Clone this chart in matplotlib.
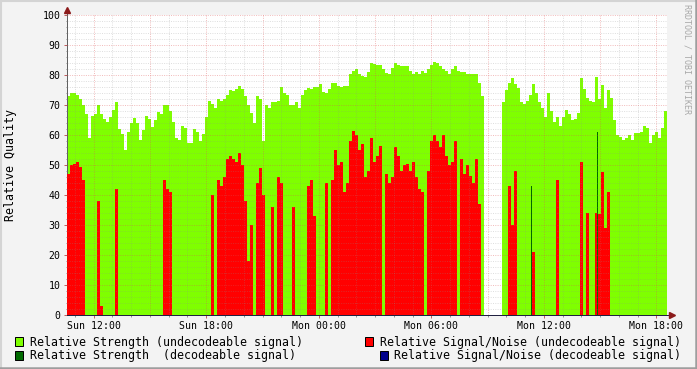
import numpy as np
import matplotlib
matplotlib.use("Agg")
import matplotlib.pyplot as plt
from matplotlib.patches import Rectangle
from matplotlib.lines import Line2D

nan = np.nan
# ---------------- data ----------------
# samples every ~9.6 min starting Sun 10:35 (hours since Sun 00:00)
T0 = 10.577
STEP = 3 / 18.757

strength_undec = [
    73, 74, 74, 73.5, 72, 70, 67, 59, 66.5, 67, 70, 67, 65.5, 64.5, 66, 68.5, 71, 62, 60.2, 55, 61, 64, 65.6, 64, 58.5, 61.7, 66.3, 65.5, 62.8, 65, 67.6, 67, 70,
    70, 68, 64.5, 59, 58.5, 63, 62.5, 57.5, 57.5, 62, 61, 58, 60.5, 66, 71.3, 70.5, 69, 72, 71.3, 72, 73.5, 75, 74.8, 75.5, 76.3, 75.5, 73, 70, 67.5, 64, 73, 72, 58,
    70, 69, 71, 71, 71.5, 76, 74, 73.5, 70, 70, 71, 69, 73.5, 75, 75.8, 75.5, 75.9, 76, 77, 74.4, 73.9, 75.5, 77.5, 77.3, 76.5, 75.9, 76.5, 76.5, 80.5, 81.3, 82, 80.5, 79.8,
    79.5, 81.1, 84, 83.6, 83.3, 83.5, 82, 80.8, 80.3, 82.5, 83.9, 83.5, 83.1, 83.1, 83, 81.5, 80.2, 81, 80.2, 81.5, 80.7, 82, 83.3, 84.3, 83.9, 83, 82, 81.5, 80.4, 82, 83.1, 81.5, 80.9,
    80.9, 80.5, 80.2, 80.5, 80.5, 77.5, 73, nan, nan, nan, nan, nan, nan, 71, 75, 77.5, 79, 77, 75.6, 71, 70.5, 71.5, 73.5, 77, 74, 71, 69, 66, 74, 68, 64.5, 66, 63,
    66, 68.5, 67, 65, 65.3, 67.5, 79, 75.3, 72.5, 71.5, 71, 79.5, 72, 76.7, 69, 75, 72.5, 65, 60, 59.5, 58.5, 58.9, 60, 58.5, 60.6, 60.7, 61, 63, 62.5, 57.5, 60, 61, 59, 62.5, 68,
]

snr_undec = [
    47, 50, 50.5, 51, 49.5, 45, 0, 0, 0, 0, 38, 3, 0, 0, 0, 0, 42, 0, 0, 0, 0, 0, 0, 0, 0, 0, 0, 0, 0, 0, 0, 0, 45,
    42, 41, 0, 0, 0, 0, 0, 0, 0, 0, 0, 0, 0, 0, 0, 40, 0, 45, 43, 46, 52, 53, 52, 51, 54, 50, 38, 18, 30, 0, 44, 49, 40,
    0, 0, 36, 0, 46, 44, 0, 0, 0, 36, 0, 0, 0, 0, 43, 45, 33, 0, 0, 0, 44, 0, 45, 55, 50, 51, 41, 44, 58, 61.5, 60, 55, 57,
    46, 48, 59, 51, 53, 56.5, 0, 47, 44, 46, 56, 53, 48, 50, 50.5, 48, 51, 46, 42, 41, 0, 48, 58, 60, 58, 56, 60, 53, 50, 51, 58, 0, 52,
    47, 50, 46.5, 44, 52, 37, 0, nan, nan, nan, nan, nan, nan, 0, 0, 43, 30, 48, 0, 0, 0, 0, 0, 21, 0, 0, 0, 0, 0, 0, 0, 45, 0,
    0, 0, 0, 0, 0, 0, 51, 0, 34, 0, 0, 34, 33.6, 47.6, 29, 41, 0, 0, 0, 0, 0, 0, 0, 0, 0, 0, 0, 0, 0, 0, 0, 0, 0, 0, 0,
]

# decodeable signal (sparse samples: hour, value)
strength_dec_time = [35.31, 38.83]
strength_dec_val = [43, 61]
snr_dec_time = []
snr_dec_val = []

tick_hours = [12, 18, 24, 30, 36, 42]
tick_labels = ["Sun 12:00", "Sun 18:00", "Mon 00:00", "Mon 06:00", "Mon 12:00", "Mon 18:00"]
legend_labels = [
    "Relative Strength (undecodeable signal)",
    "Relative Signal/Noise (undecodeable signal)",
    "Relative Strength  (decodeable signal)",
    "Relative Signal/Noise (decodeable signal)",
]

# ---------------- style ----------------
W, H = 697, 369
MONO = "DejaVu Sans Mono"
C_GREEN = "#7FFF00"
C_RED = "#FF0000"
C_DGREEN = "#006A00"
C_NAVY = "#00008B"
BG = "#F3F3F3"

fig = plt.figure(figsize=(W / 100, H / 100), dpi=100, facecolor=BG)
ax = fig.add_axes([67 / W, 54 / H, 600 / W, 300 / H])
ax.set_facecolor("white")

g = np.nan_to_num(np.array(strength_undec, dtype=float))
r = np.nan_to_num(np.array(snr_undec, dtype=float))
t = T0 + STEP * np.arange(len(g))

ax.bar(t, g, width=STEP, align="edge", color=C_GREEN, linewidth=0, antialiased=False, zorder=2)
ax.bar(t, r, width=STEP, align="edge", color=C_RED, linewidth=0, antialiased=False, zorder=3)
ax.bar(strength_dec_time, strength_dec_val, width=STEP / 3, align="edge", color=C_DGREEN,
       linewidth=0, antialiased=False, zorder=4)
if snr_dec_time:
    ax.bar(snr_dec_time, snr_dec_val, width=STEP / 3, align="edge", color=C_NAVY,
           linewidth=0, antialiased=False, zorder=4)

x0, x1 = T0, T0 + 600 / 18.757
ax.set_xlim(x0, x1)
ax.set_ylim(0, 100)

# grid (drawn over data, rrdtool style)
MAJ = (0.87, 0.32, 0.32, 0.38)
MIN = (0.56, 0.56, 0.56, 0.28)
for h in range(11, 43):
    ax.axvline(h, color=MAJ if h % 3 == 0 else MIN, lw=0.72, dashes=(1, 1.3), zorder=5)
for v in range(2, 101, 2):
    ax.axhline(v, color=MAJ if v % 10 == 0 else MIN, lw=0.72, dashes=(1, 1.3), zorder=5)

ax.set_xticks(tick_hours)
ax.set_xticklabels(tick_labels, fontfamily=MONO, fontsize=7.1)
ax.set_xticks(np.arange(11, 43), minor=True)
ax.set_yticks(np.arange(0, 101, 10))
ax.set_yticklabels([str(v) for v in range(0, 101, 10)], fontfamily=MONO, fontsize=7.1)
ax.set_yticks(np.arange(0, 101, 2), minor=True)
ax.tick_params(axis="x", which="major", length=2.2, width=0.72, color="#C06060", pad=1.8)
ax.tick_params(axis="x", which="minor", length=1.4, width=0.72, color="#909090")
ax.tick_params(axis="y", which="major", length=2.2, width=0.72, color="#C06060", pad=2.6)
ax.tick_params(axis="y", which="minor", length=1.0, width=0.72, color="#909090")

for s in ["top", "right"]:
    ax.spines[s].set_visible(False)
ax.spines["left"].set_color("#606060")
ax.spines["bottom"].set_color("#202040")
ax.spines["left"].set_linewidth(0.72)
ax.spines["bottom"].set_linewidth(0.72)

# axis extensions with arrows
ax.add_line(Line2D([0, 0], [1, 1 + 5 / 300], transform=ax.transAxes, color="#606060", lw=0.72, clip_on=False))
ax.add_line(Line2D([1, 1 + 5 / 600], [0, 0], transform=ax.transAxes, color="#202040", lw=0.72, clip_on=False))
ax.plot([0], [1 + 5.5 / 300], marker="^", ms=4.5, color="#8B1A1A", transform=ax.transAxes, clip_on=False, zorder=10)
ax.plot([1 + 5 / 600], [0], marker=">", ms=4.5, color="#8B1A1A", transform=ax.transAxes, clip_on=False, zorder=10)

# y label and watermark
fig.text(10.5 / W, 1 - 165 / H, "Relative Quality", rotation=90, ha="center", va="center",
         fontfamily=MONO, fontsize=8.4)
fig.text(687.5 / W, 1 - 4 / H, "RRDTOOL / TOBI OETIKER", rotation=270, ha="center", va="top",
         fontfamily=MONO, fontsize=6.0, color="#A8A8A8")

# legend
def legend_item(xsq, ytop, color, label, xtext):
    fig.add_artist(Rectangle((xsq / W, 1 - (ytop + 9) / H), 8 / W, 9 / H, transform=fig.transFigure,
                             facecolor=color, edgecolor="black", linewidth=0.72))
    fig.text(xtext / W, 1 - (ytop + 8.6) / H, label, ha="left", va="baseline",
             fontfamily=MONO, fontsize=8.35, color="black")

legend_item(15, 337, C_GREEN, legend_labels[0], 30)
legend_item(365, 337, C_RED, legend_labels[1], 380)
legend_item(15, 350.5, C_DGREEN, legend_labels[2], 30)
legend_item(379.5, 350.5, C_NAVY, legend_labels[3], 394)

# 3D-ish frame
fig.add_artist(Line2D([0, 1], [1 - 0.75 / H] * 2, transform=fig.transFigure, color="#D4D4D4", lw=1.5))
fig.add_artist(Line2D([0.75 / W] * 2, [0, 1], transform=fig.transFigure, color="#D4D4D4", lw=1.5))
fig.add_artist(Line2D([0, 1], [1.25 / H] * 2, transform=fig.transFigure, color="#9E9E9E", lw=1.8))
fig.add_artist(Line2D([1 - 1.25 / W] * 2, [0, 1], transform=fig.transFigure, color="#9E9E9E", lw=1.8))

fig.savefig("out.png", dpi=100, facecolor=BG)
